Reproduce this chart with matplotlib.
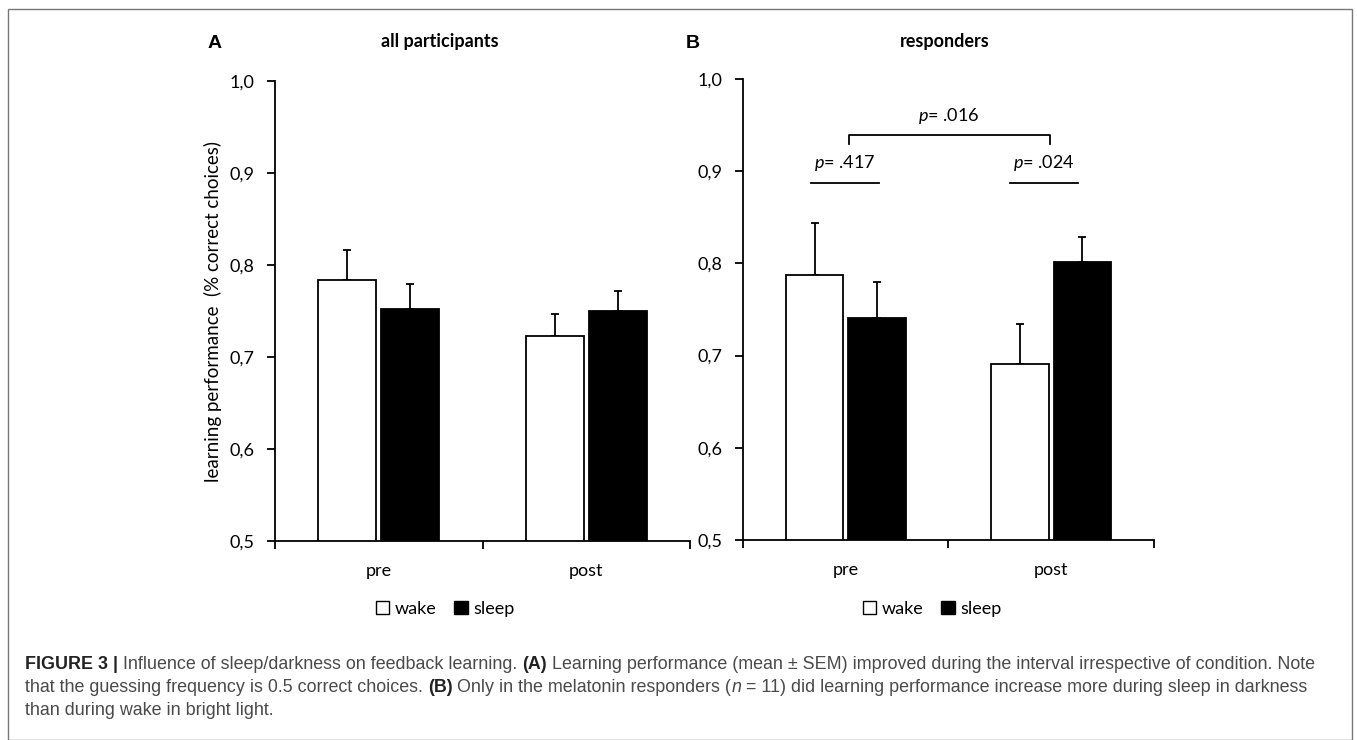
import numpy as np
import matplotlib
matplotlib.use('Agg')
import matplotlib.pyplot as plt
from matplotlib.patches import Patch, Rectangle

plt.rcParams['font.family'] = ['Lato', 'DejaVu Sans']
plt.rcParams['mathtext.fontset'] = 'custom'
plt.rcParams['mathtext.rm'] = 'Lato'
plt.rcParams['mathtext.it'] = 'Lato:italic'

# data
phases = ['pre', 'post']
conditions = ['wake', 'sleep']
all_wake = [0.784, 0.723]
all_wake_sem = [0.032, 0.024]
all_sleep = [0.752, 0.750]
all_sleep_sem = [0.027, 0.022]
resp_wake = [0.787, 0.691]
resp_wake_sem = [0.057, 0.043]
resp_sleep = [0.741, 0.801]
resp_sleep_sem = [0.039, 0.028]
yticks = [0.5, 0.6, 0.7, 0.8, 0.9, 1.0]
ytick_labels = ['0,5', '0,6', '0,7', '0,8', '0,9', '1,0']

W, H = 1357, 740
fig = plt.figure(figsize=(W / 100, H / 100), dpi=100)

def fx(x):
    return x / W

def fy(y):
    return 1 - y / H

def draw_panel(ax, wake, wake_sem, sleep, sleep_sem):
    x = np.arange(len(phases))
    bw = 0.28
    ax.bar(x - 0.151, wake, bw, color='white', edgecolor='black', linewidth=1.3, zorder=2)
    ax.bar(x + 0.151, sleep, bw, color='black', edgecolor='black', linewidth=1.3, zorder=2)
    ax.errorbar(x - 0.151, wake, yerr=[np.zeros(len(x)), wake_sem], fmt='none',
                ecolor='black', elinewidth=1.3, capsize=3, capthick=1.3, zorder=1)
    ax.errorbar(x + 0.151, sleep, yerr=[np.zeros(len(x)), sleep_sem], fmt='none',
                ecolor='black', elinewidth=1.3, capsize=3, capthick=1.3, zorder=1)
    ax.set_xlim(-0.5, 1.5)
    ax.set_ylim(0.5, 1.0)
    ax.set_yticks(yticks)
    ax.set_yticklabels(ytick_labels, fontsize=13)
    ax.set_xticks(x)
    ax.set_xticklabels(phases, fontsize=13)
    ax.set_xticks([-0.5, 0.5, 1.5], minor=True)
    ax.tick_params(axis='x', which='major', length=0, pad=16)
    ax.tick_params(axis='x', which='minor', length=6, width=1.3, direction='out')
    ax.tick_params(axis='y', length=6, width=1.3, direction='out', pad=9)
    for s in ['top', 'right']:
        ax.spines[s].set_visible(False)
    for s in ['left', 'bottom']:
        ax.spines[s].set_linewidth(1.3)
    handles = [Patch(facecolor='white', edgecolor='black', linewidth=1),
               Patch(facecolor='black', edgecolor='black', linewidth=1)]
    return handles

axA = fig.add_axes([fx(275), fy(541), fx(690 - 275), (541 - 81) / H])
axB = fig.add_axes([fx(743), fy(540), fx(1154 - 743), (540 - 79) / H])

h = draw_panel(axA, all_wake, all_wake_sem, all_sleep, all_sleep_sem)
draw_panel(axB, resp_wake, resp_wake_sem, resp_sleep, resp_sleep_sem)

axA.set_ylabel('learning performance  (% correct choices)', fontsize=13.5, labelpad=5)

for ax, cx in [(axA, 445), (axB, 932)]:
    ax.legend(h, conditions, loc='center', bbox_to_anchor=(fx(cx), fy(609)),
              bbox_transform=fig.transFigure, ncol=2, frameon=False, fontsize=13,
              handlelength=0.75, handleheight=0.75, handletextpad=0.3,
              columnspacing=1.0, borderpad=0)

# significance markers in panel B
pair_lines = [(-0.17, 0.16, '= .417'), (0.80, 1.13, '= .024')]
for x0, x1, lab in pair_lines:
    axB.plot([x0, x1], [0.8875, 0.8875], color='black', lw=1.3, clip_on=False)
    axB.text((x0 + x1) / 2, 0.898, r'$\it{p}$' + lab, ha='center', va='bottom', fontsize=13)
axB.plot([0.017, 0.017, 0.993, 0.993], [0.929, 0.939, 0.939, 0.929], color='black', lw=1.3)
axB.text(0.5, 0.949, r'$\it{p}$= .016', ha='center', va='bottom', fontsize=13)

# panel letters and titles
fig.text(fx(215), fy(43), 'A', fontsize=14, fontweight='bold', family='Liberation Sans', ha='center', va='center')
fig.text(fx(440), fy(41), 'all participants', fontsize=13, fontweight='bold', ha='center', va='center')
fig.text(fx(693), fy(43), 'B', fontsize=14, fontweight='bold', family='Liberation Sans', ha='center', va='center')
fig.text(fx(945), fy(41), 'responders', fontsize=13, fontweight='bold', ha='center', va='center')

# caption, built from chained text pieces
cap_col = '#4a4a4a'
dark = '#222222'
lines = [
    [('FIGURE 3 |', 'bold', 'normal', dark),
     (' Influence of sleep/darkness on feedback learning. ', 'normal', 'normal', cap_col),
     ('(A)', 'bold', 'normal', dark),
     (' Learning performance (mean \u00b1 SEM) improved during the interval irrespective of condition. Note', 'normal', 'normal', cap_col)],
    [('that the guessing frequency is 0.5 correct choices. ', 'normal', 'normal', cap_col),
     ('(B)', 'bold', 'normal', dark),
     (' Only in the melatonin responders (', 'normal', 'normal', cap_col),
     ('n', 'normal', 'italic', cap_col),
     (' = 11) did learning performance increase more during sleep in darkness', 'normal', 'normal', cap_col)],
    [('than during wake in bright light.', 'normal', 'normal', cap_col)],
]
for i, segs in enumerate(lines):
    prev = None
    for txt, wt, st, col in segs:
        kw = dict(fontsize=12.9, family='Liberation Sans', fontweight=wt, fontstyle=st,
                  color=col, va='bottom', ha='left')
        if prev is None:
            prev = fig.text(fx(25), fy(673 + 23 * i), txt, **kw)
        else:
            prev = fig.add_artist(matplotlib.text.Annotation(txt, xy=(1, 0), xycoords=prev, **kw))

# figure border
fig.patches.append(Rectangle((fx(8), 0), fx(1352 - 8), fy(9), transform=fig.transFigure,
                             fill=False, edgecolor='#777777', lw=1))

fig.savefig('out.png', dpi=100)
